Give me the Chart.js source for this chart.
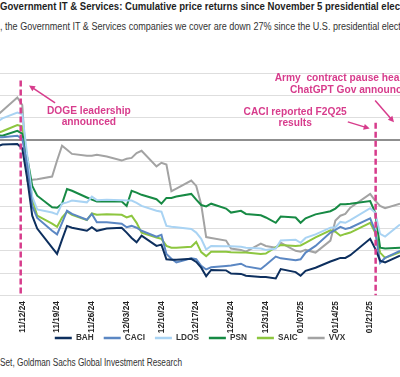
<!DOCTYPE html>
<html>
<head>
<meta charset="utf-8">
<script src="https://cdn.jsdelivr.net/npm/chart.js@4.4.1/dist/chart.umd.min.js"></script>
<style>
  body { margin: 0; background: #fff; }
  #wrap { position: relative; width: 400px; height: 377px; overflow: hidden; background: #fff; }
  .txt { position: absolute; left: 0; white-space: nowrap; font-family: "Liberation Sans", Arial, sans-serif; color: #1e1e1e; line-height: 12px; transform-origin: 0 0; }
  #title { top: 0px; font-size: 10.5px; font-weight: bold; }
  #sub { top: 21px; font-size: 10px; color: #333; }
  #src { top: 357px; font-size: 10px; color: #333; }
  #chart { position: absolute; left: 0; top: 0; }
</style>
</head>
<body>
<div id="wrap">
  <div id="title" class="txt">Government IT &amp; Services: Cumulative price returns since November 5 presidential election</div>
  <div id="sub" class="txt">, the Government IT &amp; Services companies we cover are down 27% since the U.S. presidential election</div>
  <canvas id="chart" width="400" height="352"></canvas>
  <div id="src" class="txt">Set, Goldman Sachs Global Investment Research</div>
</div>
<script>
// trading days since the Nov 5 election
const tradeDates = [
    '2024-11-05', '2024-11-06', '2024-11-07', '2024-11-08', '2024-11-11', '2024-11-12', '2024-11-13', '2024-11-14', '2024-11-15',
    '2024-11-18', '2024-11-19', '2024-11-20', '2024-11-21', '2024-11-22', '2024-11-25', '2024-11-26', '2024-11-27', '2024-11-29',
    '2024-12-02', '2024-12-03', '2024-12-04', '2024-12-05', '2024-12-06', '2024-12-09', '2024-12-10', '2024-12-11', '2024-12-12',
    '2024-12-13', '2024-12-16', '2024-12-17', '2024-12-18', '2024-12-19', '2024-12-20', '2024-12-23', '2024-12-24', '2024-12-26',
    '2024-12-27', '2024-12-30', '2024-12-31', '2025-01-02', '2025-01-03', '2025-01-06', '2025-01-07', '2025-01-08', '2025-01-10',
    '2025-01-13', '2025-01-14', '2025-01-15', '2025-01-16', '2025-01-17', '2025-01-21', '2025-01-22', '2025-01-23', '2025-01-24',
    '2025-01-27', '2025-01-28', '2025-01-29', '2025-01-30', '2025-01-31',
];

const tickLabels = ['11/12/24', '11/19/24', '11/26/24', '12/03/24', '12/10/24', '12/17/24', '12/24/24', '12/31/24', '01/07/25', '01/14/25', '01/21/25'];

const tickers = ['BAH', 'CACI', 'LDOS', 'PSN', 'SAIC', 'VVX'];

// cumulative % return
const bah = [0, -2.0, -1.5, -1.1, -1.0, -2.0, -8.8, -17.1, -20.0, -24.3, -25.7, -22.5, -19.4, -19.8, -20.5, -19.7, -20.5, -20.0, -19.8, -20.9,
    -22.1, -23.1, -21.6, -23.9, -23.6, -26.9, -27.0, -27.0, -26.8, -27.5, -28.8, -30.7, -29.3, -29.4, -30.1, -30.2, -30.6, -30.9, -30.9, -31.2,
    -29.1, -29.8, -30.6, -29.5, -28.8, -27.4, -27.0, -26.6, -26.6, -26.0, -22.3, -24.5, -27.2, -27.6, -26.1, -25.5, -25.0, -25.8, -26.0];
const caci = [0, 1.0, 0.5, 0.55, 0.9, 0.2, -5.9, -14.9, -17.6, -20.5, -21.3, -18.7, -16.0, -16.7, -18.0, -16.7, -18.6, -18.6, -18.9, -19.7,
    -19.4, -19.8, -20.5, -21.8, -21.4, -25.7, -26.8, -27.6, -26.7, -26.9, -28.4, -29.2, -28.7, -28.4, -28.3, -27.9, -28.5, -29.1, -28.2, -26.3,
    -26.7, -27.1, -26.9, -25.4, -23.9, -20.9, -20.3, -19.6, -20.1, -19.8, -17.7, -20.5, -27.7, -26.6, -25.0, -24.5, -24.8, -25.5, -26.0];
const ldos = [0, 3.5, 4.0, 4.8, 6.1, 5.7, -3.6, -12.8, -15.7, -16.4, -16.8, -14.4, -14.1, -13.7, -14.1, -12.8, -13.6, -13.5, -13.6, -13.7,
    -13.7, -14.2, -14.9, -16.0, -16.2, -19.4, -19.6, -19.7, -20.1, -20.9, -22.3, -24.7, -23.9, -24.0, -24.0, -24.1, -24.3, -24.5, -24.8, -24.5,
    -22.7, -22.5, -23.2, -22.1, -21.3, -19.8, -19.7, -18.5, -18.7, -18.1, -15.4, -16.4, -21.2, -21.8, -19.1, -18.5, -18.8, -19.5, -20.0];
const psn = [0, 1.5, 1.0, 0.9, 2.0, 1.35, -4.0, -10.4, -12.6, -15.2, -15.3, -14.4, -11.1, -11.5, -13.0, -13.5, -13.9, -13.9, -13.9, -14.9,
    -11.5, -11.9, -12.4, -13.4, -14.4, -13.1, -13.1, -12.8, -12.2, -13.5, -14.7, -15.0, -14.4, -15.5, -16.4, -16.0, -16.7, -17.0, -17.5, -18.7,
    -17.3, -17.5, -18.7, -17.7, -16.8, -16.1, -15.5, -14.5, -14.5, -14.4, -13.8, -16.4, -24.3, -24.5, -24.3, -24.0, -23.5, -24.0, -24.5];
const saic = [0, 2.5, 1.5, 1.9, 3.3, 3.0, -4.7, -13.3, -17.1, -18.9, -19.6, -17.5, -16.2, -16.9, -18.1, -16.6, -16.9, -16.8, -16.9, -17.5,
    -17.1, -18.7, -20.9, -22.0, -22.3, -23.9, -24.3, -24.3, -24.1, -23.0, -25.3, -26.2, -25.2, -25.2, -25.3, -25.4, -25.4, -25.7, -25.6, -24.2,
    -23.7, -23.9, -23.8, -23.2, -22.0, -20.4, -20.7, -21.6, -21.2, -20.9, -18.7, -20.9, -25.4, -26.6, -25.3, -25.0, -25.2, -25.8, -26.0];
const vvx = [0, 4.0, 5.5, 6.5, 9.5, 7.8, -9.2, -9.0, -8.9, -8.3, -4.7, -1.35, -2.25, -3.2, -3.6, -3.6, -3.4, -3.8, -4.7, -4.3,
    -4.1, -3.0, -2.5, -6.0, -5.2, -5.6, -11.6, -11.0, -9.2, -10.4, -14.6, -21.9, -22.1, -22.7, -24.5, -24.8, -25.2, -23.4, -23.9, -24.3,
    -23.2, -25.0, -25.2, -24.8, -25.4, -22.7, -18.2, -17.1, -16.7, -15.3, -12.2, -13.7, -14.9, -15.4, -14.4, -14.0, -14.5, -15.0, -15.5];

const seriesValues = [bah, caci, ldos, psn, saic, vvx];
const seriesColors = ['#0d2f5e', '#5b87c3', '#a9d3f3', '#178a44', '#8dc63f', '#a3a3a3'];

const DAY = 864e5;
const start = Date.parse(tradeDates[0]);
const dayOf = s => (Date.parse(s) - start) / DAY;
const days = tradeDates.map(dayOf);
const tickDays = tickLabels.map(t => {
    const [m, d, y] = t.split('/');
    return dayOf('20' + y + '-' + m + '-' + d);
});

const FAM = '"Liberation Sans", Arial, sans-serif';
const measure = document.createElement('canvas').getContext('2d');
// font size that makes `text` about `width` px wide
const fitSize = (text, width) => {
    measure.font = 'bold 10px ' + FAM;
    return 10 * width / measure.measureText(text).width;
};
const annSize = fitSize('DOGE leadership', 84);
const tickSize = fitSize('11/12/24', 31.5);
const legendSize = fitSize(tickers.join(''), 114);

// squeeze the header/footer lines to the reference's narrow face
const squeeze = (id, shown, width) => {
    const el = document.getElementById(id);
    measure.font = getComputedStyle(el).font;
    el.style.transform = 'scaleX(' + (width / measure.measureText(shown).width) + ')';
};
squeeze('title', 'Government IT & Services: Cumulative price returns since November 5 presidential elec', 400);
squeeze('sub', ', the Government IT & Services companies we cover are down 27% since the U.S. presidential elect', 401);
squeeze('src', 'Set, Goldman Sachs Global Investment Research', 182);

const pink = '#d73c8c';

// event markers and callouts, placed in (day, %) space
const events = [
    { day: 6.68, top: 13.3 },
    { day: 78.1, top: 3.8 },
];
const notes = [
    { day: 20.4, lines: [[6.4, 'DOGE leadership'], [3.9, 'announced']], arrow: [13.6, 8.3, 8.35, 12.2] },
    { day: 61.9, lines: [[6.1, 'CACI reported F2Q25'], [3.7, 'results']], arrow: [72.5, 4.0, 76.9, 2.5] },
    { day: 73.3, lines: [[13.8, 'Army  contract pause headlines'], [11.2, 'ChatGPT Gov announced']], arrow: [78.0, 8.8, 81.8, 3.9] },
];

const eventPlugin = {
    id: 'events',
    afterDatasetsDraw(chart) {
        const { ctx, scales: { x, y } } = chart;
        ctx.save();
        ctx.strokeStyle = pink;
        ctx.fillStyle = pink;

        ctx.lineWidth = 2.5;
        ctx.setLineDash([6, 3]);
        events.forEach(e => {
            const px = x.getPixelForValue(e.day);
            ctx.beginPath();
            ctx.moveTo(px, y.getPixelForValue(e.top));
            ctx.lineTo(px, y.bottom);
            ctx.stroke();
        });
        ctx.setLineDash([]);

        ctx.font = 'bold ' + annSize + 'px ' + FAM;
        ctx.textAlign = 'center';
        ctx.textBaseline = 'middle';
        ctx.lineWidth = 1.5;
        notes.forEach(n => {
            n.lines.forEach(([v, t]) => ctx.fillText(t, x.getPixelForValue(n.day), y.getPixelForValue(v)));
            const [d1, v1, d2, v2] = n.arrow;
            const x1 = x.getPixelForValue(d1), y1 = y.getPixelForValue(v1);
            const x2 = x.getPixelForValue(d2), y2 = y.getPixelForValue(v2);
            const a = Math.atan2(y2 - y1, x2 - x1);
            ctx.beginPath();
            ctx.moveTo(x1, y1);
            ctx.lineTo(x2 - 4 * Math.cos(a), y2 - 4 * Math.sin(a));
            ctx.stroke();
            ctx.beginPath();
            ctx.moveTo(x2, y2);
            ctx.lineTo(x2 - 6 * Math.cos(a) + 3 * Math.sin(a), y2 - 6 * Math.sin(a) - 3 * Math.cos(a));
            ctx.lineTo(x2 - 6 * Math.cos(a) - 3 * Math.sin(a), y2 - 6 * Math.sin(a) + 3 * Math.cos(a));
            ctx.closePath();
            ctx.fill();
        });
        ctx.restore();
    }
};

Chart.defaults.font.family = FAM;

const chart = new Chart(document.getElementById('chart'), {
    type: 'line',
    data: {
        datasets: tickers.map((name, i) => ({
            label: name,
            data: seriesValues[i].map((v, j) => ({ x: days[j], y: v })),
            borderColor: seriesColors[i],
            backgroundColor: seriesColors[i],
            borderWidth: 2,
            pointRadius: 0,
            tension: 0,
        })),
    },
    options: {
        responsive: false,
        animation: false,
        layout: { padding: { top: 73, left: 0, right: 0, bottom: 0 } },
        plugins: {
            tooltip: { enabled: false },
            legend: {
                position: 'bottom',
                labels: {
                    boxWidth: 17,
                    boxHeight: 2.5,
                    padding: 10,
                    color: '#333',
                    font: { size: legendSize, weight: 'bold' },
                    generateLabels: (c) => c.data.datasets.map((ds, i) => ({
                        text: ds.label,
                        fillStyle: ds.borderColor,
                        strokeStyle: ds.borderColor,
                        lineWidth: 0,
                        fontColor: '#333',
                        datasetIndex: i,
                    })),
                },
            },
        },
        scales: {
            x: {
                type: 'linear',
                min: 2.515,
                max: 83.0,
                grid: { display: false, drawTicks: false },
                border: { display: false },
                afterBuildTicks: (scale) => {
                    scale.ticks = tickDays.map(v => ({ value: v }));
                },
                afterFit: (scale) => {
                    scale.height = 28.5;
                    // rotated labels may run down into the legend's top padding
                    scale._computeLabelArea = () => null;
                },
                ticks: {
                    autoSkip: false,
                    minRotation: 90,
                    maxRotation: 90,
                    padding: 6,
                    color: '#222',
                    font: { size: tickSize, weight: 'bold' },
                    callback: (value) => tickLabels[tickDays.indexOf(value)],
                },
            },
            y: {
                min: -35,
                max: 15,
                ticks: { display: false, stepSize: 5 },
                border: { display: false },
                grid: {
                    drawTicks: false,
                    color: (ctx) => ctx.tick.value === 0 ? '#8f8f8f' : '#dedede',
                    lineWidth: (ctx) => ctx.tick.value === 0 ? 2 : 1,
                },
            },
        },
    },
    plugins: [eventPlugin],
});
</script>
</body>
</html>
